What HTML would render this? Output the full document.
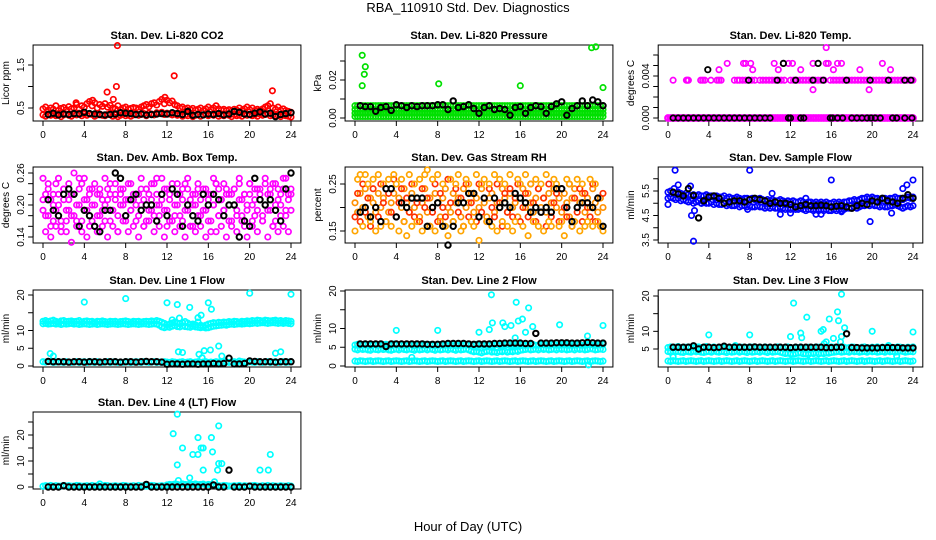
<!DOCTYPE html>
<html><head><meta charset="utf-8"><style>
html,body{margin:0;padding:0;background:#fff;}
svg{display:block;font-family:"Liberation Sans",sans-serif;}
</style></head><body>
<svg id="chart" width="936" height="540" viewBox="0 0 936 540">
<text x="468" y="12" text-anchor="middle" font-size="13">RBA_110910  Std. Dev. Diagnostics</text>
<text x="468" y="531" text-anchor="middle" font-size="13">Hour of Day (UTC)</text>
</svg>
<script>
// ---- data ----
const xTicks = [0,4,8,12,16,20,24];
const co2Hi = [.48,.52,.45,.50,.47,.55,.44,.49,.51,.46,.53,.48,.50,.58,.47,.55,.52,.60,.65,.55,.62,.50,.58,.54,.60,.52,.56,.50,.48,.55,.46,.50,.52,.47,.49,.51,.50,.47,.52,.55,.58,.53,.60,.62,.57,.65,.70,.60,.68,.62,.66,.58,.55,.50,.52,.48,.50,.46,.49,.45,.47,.50,.44,.48,.52,.46,.50,.55,.48,.45,.47,.44,.46,.43,.47,.45,.50,.44,.48,.52,.46,.50,.44,.47,.45,.48,.52,.55,.60,.50,.47,.52,.45,.48,.44,.42,.40];
const co2Lo = [.34,.31,.36,.33,.35,.32,.37,.30,.34,.36,.33,.31,.35,.34,.38,.32,.36,.33,.37,.35,.31,.34,.36,.33,.32,.35,.37,.31,.34,.30,.33,.36,.32,.35,.31,.34,.36,.33,.35,.37,.32,.38,.36,.34,.39,.37,.40,.35,.38,.36,.34,.37,.33,.35,.31,.34,.32,.36,.30,.33,.35,.31,.34,.36,.32,.35,.33,.37,.31,.34,.32,.36,.33,.30,.35,.32,.34,.31,.36,.33,.35,.32,.34,.31,.36,.33,.35,.37,.32,.34,.31,.33,.30,.35,.32,.31,.29];
const co2OutX = [7.2,12.7,6.2,7.1,22.2,6.8,11.8,3.2,4.8];
const co2OutY = [1.95,1.25,0.87,1.0,0.9,0.7,0.75,0.62,0.68];
const co2Blk = [.35,.38,.34,.36,.35,.37,.36,.40,.37,.36,.35,.34,.35,.36,.39,.38,.37,.35,.36,.34,.35,.36,.37,.36,.39,.37,.35,.42,.33,.35,.34,.36,.35,.37,.34,.36,.42,.40,.36,.35,.38,.41,.36,.38,.30,.35,.37,.39];
const presRows = [0.0065,0.0045,0.0025,0.0008];
const presOutX = [0.7,1.0,0.9,0.7,8.1,16,22.9,23.3,24];
const presOutY = [0.033,0.027,0.023,0.017,0.018,0.017,0.037,0.0375,0.016];
const presBlk = [.0065,.006,.006,.0035,.0055,.006,.004,.007,.0065,.0055,.0065,.006,.0065,.0065,.0065,.007,.007,.0045,.009,.0055,.006,.007,.005,.0025,.0055,.0065,.0045,.005,.0045,.0015,.0055,.006,.0025,.0055,.0065,.006,.0025,.006,.0075,.0085,.0015,.005,.0065,.009,.0065,.0095,.0085,.0065];
const tempHighX = [0.5,1.8,1.9,2.0,3.2,3.4,3.6,4.2,4.8,5.0,5.2,6.5,6.8,7.0,7.3,7.6,7.9,8.2,8.5,9.0,9.3,9.6,9.9,10.2,10.5,10.8,11.1,11.4,12.0,12.3,12.6,12.9,13.2,13.5,13.8,14.1,14.4,14.7,15.0,15.3,15.9,16.2,16.5,16.8,17.1,17.4,17.7,18.0,18.3,18.6,18.9,19.2,19.5,19.8,20.1,20.4,20.7,21.0,21.3,21.6,21.9,22.2,22.5,22.8,23.1,23.4,23.7,24.0];
const tempSparseX = [5.8,7.4,7.6,8.1,10.4,11.3,11.8,12.2,14.2,15.5,15.7,16.6,17.0,21.0,5.0,8.3,10.8,16.2,18.8,21.8,15.5,14.2,19.7,13.0];
const tempSparseY = [.0052,.0052,.0052,.0052,.0052,.0052,.0052,.0052,.0052,.0052,.0052,.0052,.0052,.0052,.0046,.0046,.0046,.0046,.0046,.0046,.0067,.0027,.0027,.0046];
const tempBlkX = [0.5,1.0,1.5,2.0,2.5,3.0,3.5,4.0,4.5,5.0,5.5,6.0,6.5,7.0,7.5,8.0,8.5,9.0,9.5,10.0,11.8,12.0,13.0,13.3,15.9,16.1,16.6,17.1,18.0,18.5,19.0,19.5,19.9,20.3,20.8,22.0,22.4,23.2,23.9,3.9,7.9,10.7,11.3,12.5,14.2,14.7,15.2,17.5,19.8,21.6,23.2,23.8];
const tempBlkY = [0,0,0,0,0,0,0,0,0,0,0,0,0,0,0,0,0,0,0,0,0,0,0,0,0,0,0,0,0,0,0,0,0,0,0,0,0,0,0,.0046,.0036,.0036,.0052,.0036,.0036,.0052,.0036,.0036,.0036,.0036,.0036,.0036];
const amb1 = [.19,.22,.18,.21,.17,.24,.20,.16,.23,.19,.21,.18,.22,.17,.20,.24,.19,.21,.16,.23,.20,.18,.22,.19,.17,.21,.24,.19,.22,.18,.20,.23,.17,.21,.19,.22,.20,.18,.23,.21,.17,.22,.19,.24,.20,.18,.21,.23,.19,.22,.17,.20,.24,.18,.21,.19,.23,.16,.20,.22,.18,.21,.19,.23,.17,.22,.20,.24,.18,.21,.19,.22,.20,.17,.23,.19,.21,.18,.22,.20,.24,.17,.21,.19,.23,.18,.20,.22,.19,.24,.17,.21,.20,.23,.18,.22,.19];
const amb2 = [.21,.18,.23,.16,.20,.19,.22,.17,.21,.15,.19,.22,.18,.20,.25,.17,.21,.19,.23,.20,.16,.22,.18,.21,.20,.23,.17,.19,.21,.15,.22,.20,.18,.24,.19,.21,.17,.22,.20,.16,.23,.19,.21,.18,.25,.20,.22,.19,.16,.21,.23,.18,.20,.22,.17,.24,.19,.21,.16,.20,.23,.18,.22,.19,.21,.15,.20,.24,.18,.21,.19,.23,.17,.22,.20,.18,.24,.21,.16,.19,.22,.20,.18,.23,.21,.17,.24,.19,.22,.16,.20,.23,.18,.25,.19,.21,.22];
const amb3 = [.25,.15,.24,.14,.22,.16,.25,.15,.23,.17,.24,.13,.26,.16,.23,.15,.25,.14,.22,.17,.24,.15,.23,.16,.25,.14,.22,.16,.24,.15,.23,.17,.21,.15,.24,.16,.22,.14,.25,.16,.23,.17,.24,.15,.22,.16,.25,.14,.23,.17,.24,.15,.22,.16,.23,.14,.25,.16,.22,.15,.24,.16,.23,.14,.22,.17,.25,.15,.23,.16,.24,.14,.22,.16,.23,.15,.25,.17,.22,.14,.24,.16,.23,.15,.22,.17,.25,.14,.23,.16,.24,.15,.22,.16,.25,.15,.23];
const ambBlk = [.21,.19,.18,.22,.23,.22,.16,.19,.18,.16,.15,.19,.19,.26,.25,.18,.21,.22,.19,.20,.20,.17,.22,.18,.23,.22,.16,.20,.18,.17,.22,.20,.22,.21,.18,.20,.20,.14,.17,.16,.25,.21,.20,.21,.19,.17,.23,.26];
const rh1 = [.21,.19,.23,.20,.24,.18,.22,.21,.19,.23,.20,.22,.24,.19,.21,.23,.18,.22,.20,.24,.21,.19,.23,.20,.22,.18,.21,.24,.19,.22,.20,.23,.21,.18,.22,.24,.20,.19,.23,.21,.22,.18,.24,.20,.21,.23,.19,.22,.20,.24,.21,.18,.22,.23,.19,.21,.20,.24,.22,.19,.23,.20,.21,.18,.22,.24,.20,.23,.21,.19,.22,.24,.20,.22,.19,.23,.21,.24,.20,.22,.19,.23,.21,.18,.22,.24,.20,.21,.23,.19,.22,.20,.24,.21,.19,.22,.20];
const rh2 = [.18,.23,.17,.25,.19,.22,.16,.24,.20,.18,.25,.21,.17,.23,.19,.26,.18,.21,.24,.17,.22,.19,.25,.18,.21,.17,.24,.20,.22,.16,.19,.25,.17,.23,.20,.18,.26,.21,.17,.24,.19,.22,.16,.25,.18,.21,.23,.17,.25,.19,.22,.17,.24,.20,.18,.25,.21,.16,.23,.19,.24,.18,.22,.25,.17,.20,.23,.18,.25,.21,.17,.24,.19,.22,.16,.25,.18,.21,.23,.17,.24,.20,.18,.25,.16,.22,.19,.24,.17,.23,.20,.18,.25,.17,.22,.16,.23];
const rh3 = [.15,.26,.27,.16,.27,.25,.17,.26,.15,.27,.16,.25,.17,.26,.16,.27,.25,.15,.26,.17,.14,.27,.16,.25,.17,.26,.15,.27,.28,.16,.26,.15,.27,.17,.25,.16,.14,.26,.17,.25,.27,.15,.16,.26,.25,.17,.16,.27,.13,.25,.26,.17,.25,.16,.27,.15,.26,.17,.25,.16,.27,.15,.17,.26,.25,.16,.27,.14,.25,.17,.26,.16,.25,.15,.27,.17,.16,.26,.25,.16,.17,.14,.26,.25,.16,.17,.26,.15,.25,.16,.17,.26,.16,.25,.17,.16,.15];
const rhBlk = [.19,.20,.18,.20,.17,.24,.24,.18,.21,.20,.22,.22,.22,.16,.20,.21,.16,.12,.16,.21,.21,.23,.23,.18,.22,.17,.22,.20,.21,.20,.23,.22,.21,.19,.20,.19,.20,.19,.24,.24,.20,.17,.20,.21,.21,.20,.22,.16];
const flowHi = [5.45,5.5,5.45,5.4,5.45,5.4,5.35,5.4,5.35,5.3,5.35,5.3,5.35,5.3,5.3,5.35,5.3,5.3,5.25,5.3,5.25,5.25,5.3,5.2,5.25,5.2,5.2,5.25,5.2,5.15,5.2,5.2,5.15,5.2,5.15,5.15,5.2,5.15,5.1,5.15,5.1,5.15,5.1,5.1,5.15,5.1,5.05,5.1,5.05,5.1,5.05,5.05,5.1,5.05,5.0,5.05,5.05,5.0,5.05,5.0,5.05,5.0,5.05,5.0,5.0,5.05,5.0,5.05,5.0,5.05,5.05,5.1,5.1,5.15,5.1,5.15,5.2,5.2,5.25,5.2,5.25,5.2,5.2,5.15,5.2,5.2,5.15,5.2,5.2,5.25,5.2,5.2,5.15,5.2,5.25,5.2,5.25];
const flowLo = [5.2,5.25,5.2,5.15,5.2,5.1,5.15,5.1,5.05,5.1,5.0,5.05,5.1,5.0,5.05,5.0,5.0,5.05,4.95,5.0,4.95,4.95,5.0,4.9,4.95,4.9,4.9,4.95,4.85,4.9,4.9,4.85,4.9,4.85,4.85,4.9,4.85,4.85,4.8,4.85,4.8,4.85,4.8,4.8,4.85,4.8,4.75,4.8,4.75,4.8,4.75,4.75,4.8,4.75,4.7,4.75,4.75,4.7,4.75,4.7,4.75,4.7,4.75,4.7,4.7,4.75,4.7,4.75,4.7,4.75,4.8,4.8,4.8,4.85,4.8,4.85,4.9,4.9,4.95,4.9,4.95,4.9,4.9,4.85,4.9,4.85,4.85,4.9,4.9,4.95,4.9,4.85,4.8,4.85,4.9,4.85,4.9];
const flowOutX = [0,0.7,1.0,2.2,2.3,2.6,2.5,8.0,16,19.8,21.9,23.0,23.4,24,3.3,7.8,10.2,11.0,12,14.5,17,0.6,15,13.5];
const flowOutY = [4.95,6.35,5.75,5.7,4.5,4.7,3.45,6.35,5.95,4.25,4.6,5.6,5.75,5.95,5.0,4.75,5.4,4.55,4.6,4.55,4.65,5.6,4.55,5.2];
const flowBlk = [5.45,5.38,5.3,5.6,5.32,4.4,5.1,5.25,5.3,5.2,5.0,5.05,5.1,5.1,5.05,5.15,5.2,5.15,5.1,5.0,5.05,5.0,5.0,4.95,4.85,4.9,4.95,4.9,4.9,4.92,4.9,4.85,4.88,4.9,4.85,4.8,4.9,5.0,4.95,5.1,5.05,5.2,5.1,5.05,5.0,5.2,5.35,5.2];
const l1Hi = [12.6,12.8,12.5,12.7,12.9,12.6,12.4,12.7,12.8,12.5,12.6,12.7,12.5,12.6,12.8,12.4,12.6,12.7,12.5,12.6,12.4,12.6,12.5,12.7,12.5,12.4,12.6,12.5,12.6,12.4,12.5,12.6,12.7,12.5,12.4,12.6,12.5,12.6,12.4,12.5,12.6,12.5,12.7,12.6,12.8,12.6,12.3,12.0,11.6,11.8,12.1,12.4,12.0,11.9,12.2,12.5,12.1,11.7,11.8,11.6,12.4,11.5,11.3,11.5,11.8,12.0,12.2,12.1,12.3,12.2,12.4,12.3,12.5,12.4,12.6,12.5,12.4,12.6,12.5,12.7,12.6,12.8,12.7,12.9,12.8,12.7,12.9,12.8,12.7,12.8,12.9,12.7,12.8,12.6,12.8,12.7,12.6];
const l1Mid = [11.9,12.0,11.8,11.9,12.0,11.8,11.9,11.7,11.9,11.8,11.9,12.0,11.8,11.9,11.7,11.8,11.9,11.8,11.7,11.8,11.9,11.7,11.8,11.9,11.8,11.7,11.8,11.9,11.8,11.7,11.8,11.9,11.8,11.7,11.8,11.9,11.8,11.7,11.8,11.9,11.8,11.7,11.8,11.9,11.8,11.5,11.0,10.8,11.0,10.9,11.2,11.4,11.1,11.0,11.3,11.1,11.0,10.9,11.2,11.0,10.9,10.8,10.9,10.7,10.8,11.0,11.2,11.3,11.4,11.5,11.6,11.5,11.7,11.8,11.7,11.8,11.9,11.8,11.9,12.0,11.9,12.0,12.1,12.0,12.1,12.2,12.1,12.0,12.1,12.2,12.1,12.0,12.1,12.0,12.1,12.0,11.9];
const l1Lo = [1.2,1.1,1.3,1.2,1.0,1.1,1.2,1.1,1.0,1.2,1.1,1.0,1.1,1.2,1.0,1.1,1.2,1.0,1.3,1.1,1.0,1.2,1.1,1.0,1.1,1.2,1.0,1.1,1.2,1.0,1.1,1.0,1.2,1.1,1.0,1.1,1.2,1.1,1.0,1.2,1.1,1.0,1.1,1.2,1.0,1.1,1.0,1.2,1.1,1.0,1.2,1.1,1.0,1.1,1.2,1.0,1.1,1.2,1.0,1.1,1.2,1.0,1.1,1.2,1.0,1.1,1.0,1.2,1.1,1.0,1.2,1.1,1.0,1.1,1.2,1.0,1.4,1.2,1.1,1.0,1.2,1.1,1.0,1.2,1.1,1.0,1.1,1.2,1.0,1.1,1.2,1.0,1.1,1.2,1.0,1.1,1.2];
const l1OutX = [4,8,12,13,14.2,16,16.3,20,24,15.3,13.2,0.7,1.0,13.1,13.5,15.1,15.4,15.6,16.2,17,17.3,22.5,23,12.5,15.0];
const l1OutY = [18,19,17.8,17.3,16.5,17.8,16,20.5,20.2,14.3,13.5,3.5,2.8,4,3.8,3.3,2.3,4.3,4.5,5.6,2.8,3.6,4,13,13.6];
const l1Blk = [1.3,1.2,1.2,1.2,1.1,1.2,1.2,1.1,1.2,1.2,1.1,1.2,1.2,1.2,1.1,1.2,1.2,1.1,1.2,1.3,1.2,1.2,1.1,0.5,0.6,0.6,0.5,0.6,0.6,0.5,0.6,0.6,0.7,0.6,0.7,2.2,0.6,0.6,0.7,1.4,1.3,1.2,1.2,1.2,1.1,1.2,1.2,1.2];
const l2Hi = [5.6,5.8,5.5,5.7,5.9,5.6,5.5,5.7,5.8,5.6,5.5,5.7,5.8,5.6,5.5,5.9,5.7,5.6,5.8,5.5,5.7,5.6,5.8,5.5,5.7,5.6,5.5,5.8,5.6,5.7,5.5,5.6,5.8,5.7,5.5,5.6,5.7,5.5,5.8,5.6,5.7,5.5,5.6,5.8,5.7,5.5,5.6,5.8,5.6,5.5,5.7,5.6,5.8,5.5,5.6,5.7,5.5,5.6,5.8,5.7,5.6,5.5,5.7,5.6,5.8,5.7,5.5,5.6,5.8,5.7,5.5,5.6,5.8,5.7,5.6,5.5,5.7,5.8,5.6,5.5,5.7,5.6,5.8,5.5,5.7,5.6,5.8,5.7,5.5,5.6,5.8,5.7,5.6,5.5,5.7,5.6,5.8];
const l2Mid = [4.5,4.3,4.6,4.4,4.5,4.3,4.2,4.5,4.4,4.3,4.6,4.4,4.5,4.3,4.2,4.4,4.5,4.3,4.6,4.4,4.3,4.5,4.4,4.2,4.5,4.3,4.4,4.6,4.3,4.5,4.4,4.2,4.5,4.3,4.4,4.5,4.3,4.6,4.4,4.2,4.5,4.3,4.4,4.5,4.3,4.0,3.8,3.9,3.7,3.5,3.8,3.9,4.0,3.7,3.8,3.6,3.9,3.8,4.0,3.7,3.9,3.8,4.0,3.9,4.2,4.3,4.4,4.5,4.3,4.4,4.5,4.3,4.6,4.4,4.5,4.3,4.4,4.5,4.3,4.6,4.4,4.5,4.3,4.4,4.5,4.3,4.6,4.4,4.5,4.3,4.4,4.6,4.5,4.3,4.4,4.5,4.4];
const l2Lo = [1.3,1.2,1.4,1.3,1.2,1.3,1.4,1.2,1.3,1.4,1.3,1.2,1.3,1.4,1.2,1.3,1.4,1.3,1.2,1.3,1.4,1.2,1.3,1.4,1.3,1.2,1.3,1.4,1.2,1.3,1.4,1.3,1.2,1.3,1.4,1.2,1.3,1.4,1.3,1.2,1.3,1.4,1.2,1.3,1.4,1.3,1.2,1.3,1.4,1.2,1.3,1.4,1.3,1.2,1.3,1.4,1.2,1.3,1.4,1.3,1.2,1.3,1.4,1.2,1.3,1.4,1.3,1.2,1.3,1.4,1.2,1.3,1.4,1.3,1.2,1.3,1.4,1.2,1.3,1.4,1.3,1.2,1.3,1.4,1.2,1.3,1.4,1.3,1.2,1.3,1.4,1.2,1.3,1.4,1.3,1.2,1.3];
const l2OutX = [13.2,15.6,16.8,13.3,14.3,15.8,16.2,16.5,17.2,19.8,24,4,8,12,13,22.5,15.5,5.5,22.6,14.5,15.1];
const l2OutY = [19,17,15.5,11.5,11.5,12,12.5,9,10.5,11,10.8,9.5,9.5,9,9.7,8,7.5,2.3,0.3,10.5,10.8];
const l2Blk = [5.9,5.9,5.9,5.9,5.9,5.2,5.9,5.9,5.9,5.9,5.9,5.9,5.9,5.8,5.8,5.8,5.9,6.0,6.0,6.0,6.0,5.9,5.8,5.9,5.9,5.9,6.0,6.0,6.1,6.1,6.1,6.1,6.0,6.0,8.7,6.1,6.1,6.1,6.2,6.2,6.2,6.1,6.1,6.2,6.3,6.2,6.1,6.1];
const l3Hi = [5.4,5.6,5.3,5.5,5.7,5.4,5.3,5.5,5.6,5.4,5.3,5.5,5.6,5.4,5.3,5.7,5.5,5.4,5.6,5.3,5.5,5.4,5.6,5.3,5.5,5.4,5.3,5.6,5.4,5.5,5.3,5.4,5.6,5.5,5.3,5.4,5.5,5.3,5.6,5.4,5.5,5.3,5.4,5.6,5.5,5.3,5.4,5.6,5.4,5.3,5.5,5.4,5.6,5.3,5.4,5.5,5.3,5.4,5.6,5.5,5.4,5.3,5.5,5.4,5.6,5.5,5.3,5.4,5.6,5.5,5.3,5.4,5.6,5.5,5.4,5.3,5.5,5.6,5.4,5.3,5.5,5.4,5.6,5.3,5.5,5.4,5.6,5.5,5.3,5.4,5.6,5.5,5.4,5.3,5.5,5.4,5.6];
const l3Mid = [4.3,4.1,4.4,4.2,4.3,4.1,4.0,4.3,4.2,4.1,4.4,4.2,4.3,4.1,4.0,4.2,4.3,4.1,4.4,4.2,4.1,4.3,4.2,4.0,4.3,4.1,4.2,4.4,4.1,4.3,4.2,4.0,4.3,4.1,4.2,4.3,4.1,4.4,4.2,4.0,4.3,4.1,4.2,4.3,4.1,3.9,3.7,3.8,3.6,3.5,3.7,3.8,3.9,3.6,3.7,3.5,3.8,3.7,3.9,3.6,3.8,3.7,3.9,3.8,4.0,4.1,4.2,4.3,4.1,4.2,4.3,4.1,4.4,4.2,4.3,4.1,4.2,4.3,4.1,4.4,4.2,4.3,4.1,4.2,4.3,4.1,4.4,4.2,4.3,4.1,4.2,4.4,4.3,4.1,4.2,4.3,4.2];
const l3Lo = [1.6,1.5,1.7,1.6,1.5,1.6,1.7,1.5,1.6,1.7,1.6,1.5,1.6,1.7,1.5,1.6,1.7,1.6,1.5,1.6,1.7,1.5,1.6,1.7,1.6,1.5,1.6,1.7,1.5,1.6,1.7,1.6,1.5,1.6,1.7,1.5,1.6,1.7,1.6,1.5,1.6,1.7,1.5,1.6,1.7,1.6,1.5,1.6,1.7,1.5,1.6,1.7,1.6,1.5,1.6,1.7,1.5,1.6,1.7,1.6,1.5,1.6,1.7,1.5,1.6,1.7,1.6,1.5,1.6,1.7,1.5,1.6,1.7,1.6,1.5,1.6,1.7,1.5,1.6,1.7,1.6,1.5,1.6,1.7,1.5,1.6,1.7,1.6,1.5,1.6,1.7,1.5,1.6,1.7,1.6,1.5,1.6];
const l3OutX = [4,8,12,12.3,13.6,13,13.1,15,15.2,15.8,16.2,16.6,16.7,17.3,17,17,16.9,20,24,15.5,15.3,22.4,0.5,6.6,21.6];
const l3OutY = [9,9,8.5,18,14,9.5,8.2,10,10.5,13.5,8,15.5,13,11,20.5,8.5,7,10,9.8,7,6.5,3,2.8,6,6];
const l3Blk = [5.5,5.5,5.5,5.5,5.9,5.0,5.5,5.5,5.4,5.5,5.8,5.5,5.5,5.5,5.5,5.5,5.6,5.5,5.5,5.5,5.5,5.5,5.5,5.4,5.5,5.5,5.5,5.5,5.5,5.5,5.4,5.4,5.5,5.5,9.3,5.4,5.4,5.3,5.3,5.3,5.3,5.4,5.4,5.4,5.4,5.3,5.3,5.3];
const l4Lo = [0.3,0.5,0.4,0.6,0.3,0.5,0.4,0.3,0.6,0.4,0.5,0.3,0.4,0.6,0.5,0.3,0.4,0.5,0.3,0.6,0.4,0.5,0.3,0.4,0.6,0.5,0.3,0.4,0.5,0.3,0.4,0.6,0.5,0.3,0.4,0.5,0.3,0.6,0.4,0.5,0.3,0.4,0.6,0.5,0.3,0.4,0.5,0.3,0.8,1.0,0.9,1.1,1.0,0.8,1.2,1.0,0.9,1.1,1.0,1.2,0.9,1.0,1.1,0.8,1.0,0.9,0.8,0.6,0.5,0.4,0.6,0.5,0.4,0.3,0.5,0.4,0.6,0.3,0.5,0.4,0.3,0.5,0.6,0.4,0.3,0.5,0.4,0.6,0.3,0.5,0.4,0.3,0.5,0.4,0.3,0.5,0.4];
const l4OutX = [13,12.6,13.5,13,15,15.3,15.5,14.5,15,16.3,16.4,17,17,17.3,16.9,15.5,14.2,13.1,16.6,21,21.8,22,5.5];
const l4OutY = [28,20.5,15,8.5,19,15,15,12.5,12.5,19,13.5,23.5,9,9,6.5,6.5,3.5,2.5,2,6.5,6.5,12.5,1.2];
const l4Blk = [0,0,0,0.5,0,0,0,0,0,0,0,0,0,0,0,0,0,0,0,1.0,0,0,0,0,0,0,0,0,0,0,0,0,0.8,0,0,6.5,0,0,0,0.3,0,0,0,0,0,0,0,0];

// ---- layout ----
const NS = 'http://www.w3.org/2000/svg';
const svg = document.getElementById('chart');
const colX0 = [43,355,668], colX24 = [291,603,913];
const rowTop = [45,167,290,412], rowBot = [121,243,367,489];
const times97 = []; for (let i=0;i<97;i++) times97.push(i*0.25);
const times48 = []; for (let i=1;i<=48;i++) times48.push(i*0.5);

function mk(tag, attrs, parent){
  const e=document.createElementNS(NS,tag);
  for(const k in attrs) e.setAttribute(k,attrs[k]);
  (parent||svg).appendChild(e); return e;
}

function makePanel(cfg){
  const g = mk('g',{});
  
  
  const x0=colX0[cfg.col], x24=colX24[cfg.col];
  const sx = v => x0 + (v/24)*(x24-x0);
  const sy = v => cfg.p0 + (v-cfg.v0)/(cfg.v1-cfg.v0)*(cfg.p1-cfg.p0);
  const top=rowTop[cfg.row], bot=rowBot[cfg.row];
  const left=sx(-0.96), right=sx(24.96);
  const box = mk('rect',{x:left,y:top,width:right-left,height:bot-top,fill:'none',stroke:'#000','stroke-width':1},g);
  
  
  const t = mk('text',{x:(left+right)/2,y:top-6,'text-anchor':'middle','font-size':11,'font-weight':'bold'},g);
  t.textContent=cfg.title;
  
  
  const xa = mk('g',{},g);
  
  
  mk('line',{x1:sx(0),x2:sx(24),y1:bot,y2:bot,stroke:'#000'},xa);
  xTicks.forEach(v=>{
    mk('line',{x1:sx(v),x2:sx(v),y1:bot,y2:bot+5,stroke:'#000'},xa);
    const tl=mk('text',{x:sx(v),y:bot+17,'text-anchor':'middle','font-size':10},xa);
    tl.textContent=v;
    
    
  });
  const ya = mk('g',{},g);
  
  
  const tk=cfg.ticks;
  mk('line',{x1:left,x2:left,y1:sy(tk[0]),y2:sy(tk[tk.length-1]),stroke:'#000'},ya);
  tk.forEach(v=>{ mk('line',{x1:left-5,x2:left,y1:sy(v),y2:sy(v),stroke:'#000'},ya); });
  cfg.labels.forEach(v=>{
    const tl=mk('text',{x:0,y:0,'text-anchor':'middle','font-size':10,transform:`translate(${left-9},${sy(v)}) rotate(-90)`},ya);
    tl.textContent=v;
    
    
  });
  const yl=mk('text',{x:0,y:0,'text-anchor':'middle','font-size':10,transform:`translate(${left-24},${(top+bot)/2}) rotate(-90)`},ya);
  yl.textContent=cfg.ylab;
  
  
  const clip = mk('g',{},g);
  return {g:clip, sx, sy, top, bot, left, right};
}

function pts(P, xs, ys, color, name, sw){
  const grp = mk('g',{fill:'none',stroke:color,'stroke-width':sw||1.7},P.g);
  
  
  for(let i=0;i<xs.length;i++){
    if(ys[i]===null||ys[i]===undefined) continue;
    const c = mk('circle',{cx:P.sx(xs[i]).toFixed(1),cy:P.sy(ys[i]).toFixed(1),r:2.7},grp);
    
    
  }
}
const fill = (n,v)=>new Array(n).fill(v);

let P = makePanel({name:'panel-co2',col:0,row:0,title:'Stan. Dev. Li-820 CO2',ylab:'Licor ppm',v0:0.5,p0:108,v1:1.5,p1:65,ticks:[0.5,1.0,1.5],labels:['0.5','1.5']});
pts(P,times97,co2Lo,'#ff0000','co2-series');
pts(P,times97,co2Hi,'#ff0000','co2-series');
pts(P,co2OutX,co2OutY,'#ff0000','co2-outliers');
pts(P,times48,co2Blk,'#000','co2-black-series',2.0);

P = makePanel({name:'panel-pressure',col:1,row:0,title:'Stan. Dev. Li-820 Pressure',ylab:'kPa',v0:0,p0:118,v1:0.02,p1:80,ticks:[0,0.01,0.02,0.03],labels:['0.00','0.02']});
presRows.forEach(r=>pts(P,times97,fill(97,r),'#00e000','pressure-series'));
pts(P,presOutX,presOutY,'#00e000','pressure-outliers');
pts(P,times48,presBlk,'#000','pressure-black-series',2.0);

P = makePanel({name:'panel-li820-temp',col:2,row:0,title:'Stan. Dev. Li-820 Temp.',ylab:'degrees C',v0:0,p0:118,v1:0.004,p1:76,ticks:[0,0.001,0.002,0.003,0.004,0.005,0.006],labels:['0.000','0.004']});
pts(P,times97,fill(97,0),'#ff00ff','temp-series',2.4);
pts(P,tempHighX,fill(tempHighX.length,0.0036),'#ff00ff','temp-series');
pts(P,tempSparseX,tempSparseY,'#ff00ff','temp-outliers');
pts(P,tempBlkX,tempBlkY,'#000','temp-black-series',1.8);

P = makePanel({name:'panel-amb-box-temp',col:0,row:1,title:'Stan. Dev. Amb. Box Temp.',ylab:'degrees C',v0:0.14,p0:237,v1:0.26,p1:173,ticks:[0.14,0.16,0.18,0.20,0.22,0.24,0.26],labels:['0.14','0.20','0.26']});
pts(P,times97,amb1,'#ff00ff','amb-series');
pts(P,times97,amb2,'#ff00ff','amb-series');
pts(P,times97,amb3,'#ff00ff','amb-series');
pts(P,times48,ambBlk,'#000','amb-black-series',2.0);

P = makePanel({name:'panel-gas-rh',col:1,row:1,title:'Stan. Dev. Gas Stream RH',ylab:'percent',v0:0.15,p0:231,v1:0.25,p1:184,ticks:[0.15,0.20,0.25],labels:['0.15','0.25']});
pts(P,times97,rh1,'#ff9000','rh-series');
pts(P,times97,rh2,'#ff3000','rh-series');
pts(P,times97,rh3,'#ffa500','rh-series');
pts(P,times48,rhBlk,'#000','rh-black-series',2.0);

P = makePanel({name:'panel-sample-flow',col:2,row:1,title:'Stan. Dev. Sample Flow',ylab:'ml/min',v0:3.5,p0:240,v1:5.5,p1:191,ticks:[3.5,4,4.5,5,5.5,6],labels:['3.5','4.5','5.5']});
pts(P,times97,flowHi,'#0000ff','flow-series');
pts(P,times97,flowLo,'#0000ff','flow-series');
pts(P,flowOutX,flowOutY,'#0000ff','flow-outliers');
pts(P,times48,flowBlk,'#000','flow-black-series',2.0);

P = makePanel({name:'panel-line1-flow',col:0,row:2,title:'Stan. Dev. Line 1 Flow',ylab:'ml/min',v0:0,p0:366,v1:20,p1:295,ticks:[0,5,10,15,20],labels:['0','5','10','20']});
pts(P,times97,l1Hi,'#00ffff','line1-series');
pts(P,times97,l1Mid,'#00ffff','line1-series');
pts(P,times97,l1Lo,'#00ffff','line1-series');
pts(P,l1OutX,l1OutY,'#00ffff','line1-outliers');
pts(P,times48,l1Blk,'#000','line1-black-series',2.0);

P = makePanel({name:'panel-line2-flow',col:1,row:2,title:'Stan. Dev. Line 2 Flow',ylab:'ml/min',v0:0,p0:366,v1:20,p1:291,ticks:[0,5,10,15,20],labels:['0','5','10','20']});
pts(P,times97,l2Hi,'#00ffff','line2-series');
pts(P,times97,l2Mid,'#00ffff','line2-series');
pts(P,times97,l2Lo,'#00ffff','line2-series');
pts(P,l2OutX,l2OutY,'#00ffff','line2-outliers');
pts(P,times48,l2Blk,'#000','line2-black-series',2.0);

P = makePanel({name:'panel-line3-flow',col:2,row:2,title:'Stan. Dev. Line 3 Flow',ylab:'ml/min',v0:5,p0:349,v1:20,p1:296,ticks:[5,10,15,20],labels:['5','10','20']});
pts(P,times97,l3Hi,'#00ffff','line3-series');
pts(P,times97,l3Mid,'#00ffff','line3-series');
pts(P,times97,l3Lo,'#00ffff','line3-series');
pts(P,l3OutX,l3OutY,'#00ffff','line3-outliers');
pts(P,times48,l3Blk,'#000','line3-black-series',2.0);

P = makePanel({name:'panel-line4-flow',col:0,row:3,title:'Stan. Dev. Line 4 (LT) Flow',ylab:'ml/min',v0:0,p0:487,v1:20,p1:435,ticks:[0,5,10,15,20,25],labels:['0','10','20']});
pts(P,times97,l4Lo,'#00ffff','line4-series');
pts(P,l4OutX,l4OutY,'#00ffff','line4-outliers');
pts(P,times48,l4Blk,'#000','line4-black-series',2.0);
</script>
</body></html>
